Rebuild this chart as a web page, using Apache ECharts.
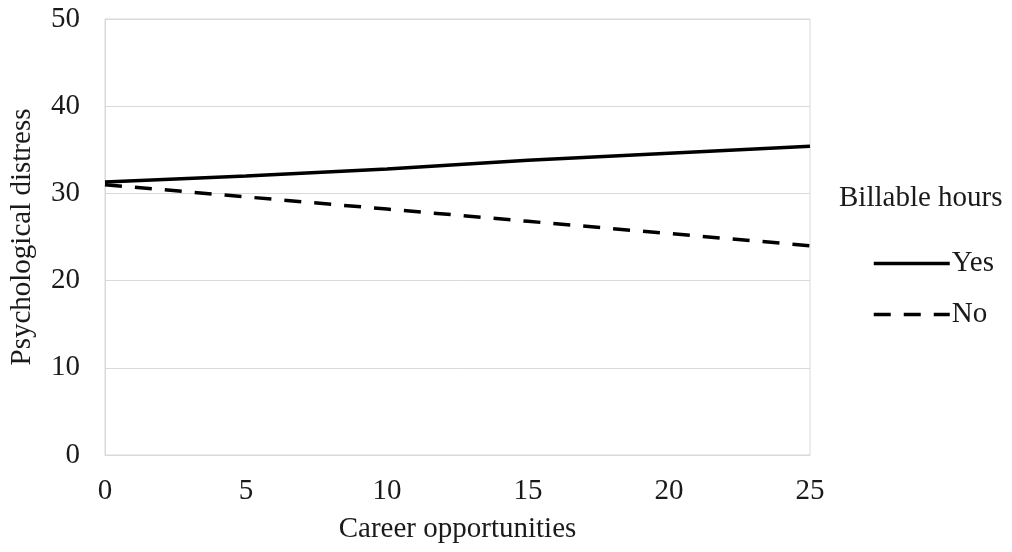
<!DOCTYPE html>
<html><head><meta charset="utf-8">
<script src="https://cdn.jsdelivr.net/npm/echarts@6/dist/echarts.min.js"></script>
<style>html,body{margin:0;padding:0;background:#fff}#c{width:1012px;height:552px}</style>
</head><body><div id="c"></div>
<script>
const xValues = [0, 5, 10, 15, 20, 25];
const yesValues = [31.3, 32.0, 32.8, 33.8, 34.6, 35.4];
const noValues = [31.0, 29.6, 28.2, 26.8, 25.4, 24.0];
const seriesNames = ['Yes', 'No'];
const legendTitle = 'Billable hours';
const xTitle = 'Career opportunities';
const yTitle = 'Psychological distress';

const font = 'Liberation Serif';
const fs = 29;
const txt = '#1a1a1a';
const chart = echarts.init(document.getElementById('c'), null, {renderer: 'canvas'});
chart.setOption({
  animation: false,
  grid: {left: 105, right: 202, top: 19, bottom: 97, show: true, borderColor: '#d9d9d9', borderWidth: 1},
  title: {text: legendTitle, left: 839, top: 184, padding: 0, textStyle: {fontFamily: font, fontSize: fs, fontWeight: 'normal', color: txt}},
  legend: {
    orient: 'vertical', left: 872, top: 249, padding: 0, itemWidth: 76, itemHeight: 14, itemGap: 22,
    textStyle: {fontFamily: font, fontSize: fs, color: txt, padding: [0, 0, 0, -3]},
    itemStyle: {opacity: 0},
    lineStyle: {width: 3.5},
    data: seriesNames
  },
  xAxis: {
    type: 'value', min: 0, max: 25, interval: 5,
    name: xTitle, nameLocation: 'middle', nameGap: 60,
    nameTextStyle: {fontFamily: font, fontSize: fs, color: txt},
    axisLine: {show: true, lineStyle: {color: '#d9d9d9'}},
    axisTick: {show: false},
    splitLine: {show: false},
    axisLabel: {fontFamily: font, fontSize: fs, color: txt, margin: 22}
  },
  yAxis: {
    type: 'value', min: 0, max: 50, interval: 10,
    name: yTitle, nameLocation: 'middle', nameGap: 68,
    nameTextStyle: {fontFamily: font, fontSize: fs, color: txt},
    axisLine: {show: true, lineStyle: {color: '#d9d9d9'}},
    axisTick: {show: false},
    splitLine: {show: true, lineStyle: {color: '#d9d9d9'}},
    axisLabel: {fontFamily: font, fontSize: fs, color: txt, margin: 25}
  },
  series: [
    {name: seriesNames[0], type: 'line', data: xValues.map((x, i) => [x, yesValues[i]]), symbol: 'none',
     lineStyle: {color: '#000', width: 3.5, type: 'solid'}, itemStyle: {color: '#000'}},
    {name: seriesNames[1], type: 'line', data: xValues.map((x, i) => [x, noValues[i]]), symbol: 'none',
     lineStyle: {color: '#000', width: 3.5, type: [17, 13]}, itemStyle: {color: '#000'}}
  ]
});
</script></body></html>
